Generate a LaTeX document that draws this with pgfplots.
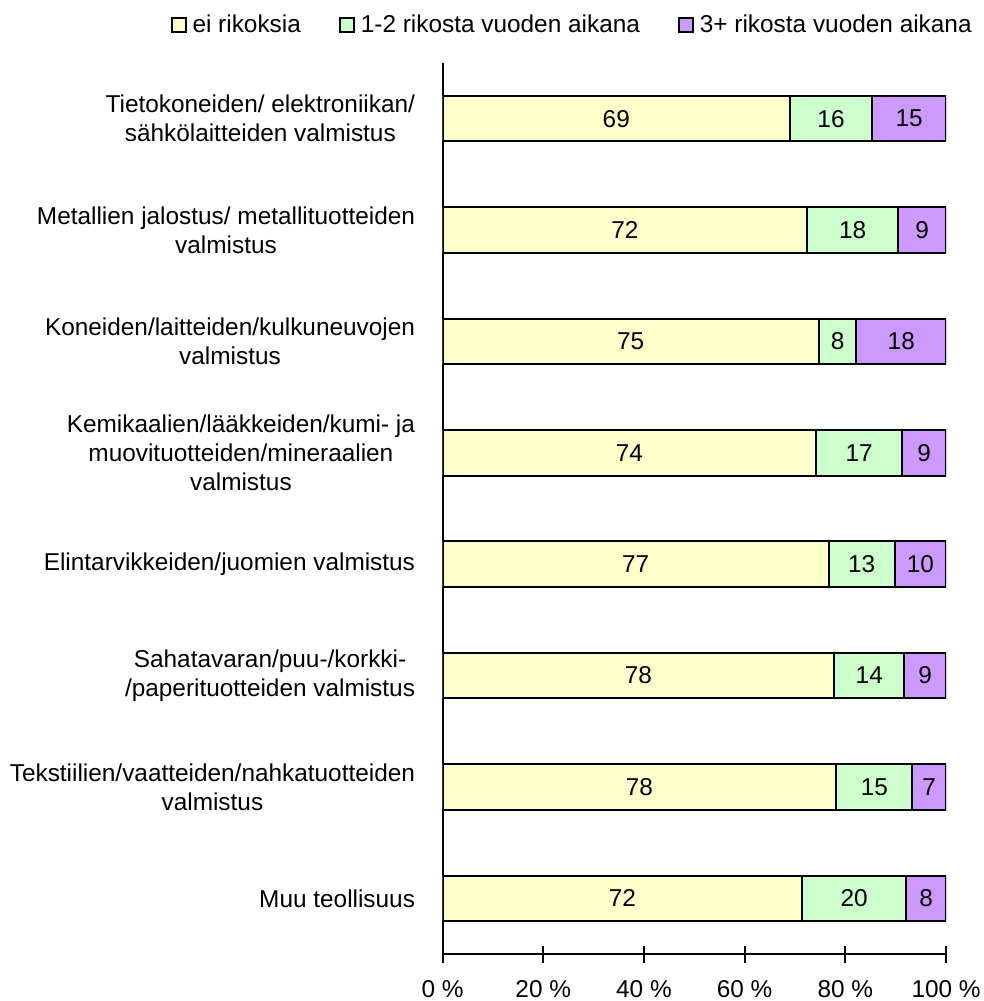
\documentclass[border=0pt]{standalone}
\usepackage{fontspec}
\setmainfont{Liberation Sans}
\usepackage{pgfplots}
\usepackage{pgfplotstable}
\pgfplotsset{compat=1.18}
\definecolor{cA}{HTML}{FFFFCC}
\definecolor{cB}{HTML}{CCFFCC}
\definecolor{cC}{HTML}{CC99FF}
\pgfplotstableread{
y a b c la lb lc
0 69.0 16.3 14.7 69 16 15
1 72.4 18.1 9.5 72 18 9
2 74.7 7.5 17.8 75 8 18
3 74.2 17.1 8.7 74 17 9
4 76.7 13.1 10.2 77 13 10
5 77.8 13.9 8.3 78 14 9
6 78.2 15.1 6.7 78 15 7
7 71.4 20.7 7.9 72 20 8
}\data
\begin{document}
\begin{tikzpicture}[font=\fontsize{12.2}{14.5}\selectfont]
\pgfplotsset{common/.style={
  width=252pt, height=446pt, scale only axis,
  xmin=0, xmax=100, ymin=-0.5, ymax=7.5, y dir=reverse,
}}
\begin{axis}[common,
  xbar stacked, bar width=0.41,
  axis lines=left, axis line style={-, line width=1pt},
  xtick={0,20,40,60,80,100},
  xticklabels={0 \%,20 \%,40 \%,60 \%,80 \%,100 \%},
  tick align=center, major tick length=8.5pt,
  xtick style={line width=1pt, black},
  xticklabel style={yshift=-5.5pt},
  ytick={0,...,7}, ytick style={draw=none},
  yticklabels={{Tietokoneiden/ elektroniikan/\\sähkölaitteiden valmistus},
    {Metallien jalostus/ metallituotteiden\\valmistus},
    {Koneiden/laitteiden/kulkuneuvojen\\valmistus},
    {Kemikaalien/lääkkeiden/kumi- ja\\muovituotteiden/mineraalien\\valmistus},
    {Elintarvikkeiden/juomien valmistus},
    {Sahatavaran/puu-/korkki-\\/paperituotteiden valmistus},
    {Tekstiilien/vaatteiden/nahkatuotteiden\\valmistus},
    {Muu teollisuus}},
  yticklabel style={align=center, xshift=-6pt},
  legend columns=3,
  legend style={draw=none, inner sep=0pt, at={(1,1)}, anchor=east, xshift=16pt, yshift=19pt,
    nodes={inner xsep=3pt, inner ysep=0pt},
    /tikz/every even column/.append style={column sep=16pt}},
  legend image code/.code={\draw[#1, draw=black, line width=1pt] (0pt,-3.5pt) rectangle (7pt,3.5pt);},
]
\addplot[fill=cA, draw=black, line width=1pt] table[x=a, y=y] {\data};
\addplot[fill=cB, draw=black, line width=1pt] table[x=b, y=y] {\data};
\addplot[fill=cC, draw=black, line width=1pt] table[x=c, y=y] {\data};
\legend{ei rikoksia, 1-2 rikosta vuoden aikana, 3+ rikosta vuoden aikana}
\coordinate (SW) at (rel axis cs:0,0);
\coordinate (NE) at (rel axis cs:1,1);
\end{axis}
\begin{axis}[common, hide axis,
  every node near coord/.style={anchor=center, black}]
\addplot[draw=none, mark=none, nodes near coords, point meta=explicit symbolic]
  table[x expr=\thisrow{a}/2, y=y, meta=la] {\data};
\addplot[draw=none, mark=none, nodes near coords, point meta=explicit symbolic]
  table[x expr=\thisrow{a}+\thisrow{b}/2, y=y, meta=lb] {\data};
\addplot[draw=none, mark=none, nodes near coords, point meta=explicit symbolic]
  table[x expr=\thisrow{a}+\thisrow{b}+\thisrow{c}/2, y=y, meta=lc] {\data};
\end{axis}
\pgfresetboundingbox
\path ([shift={(-221.5pt,-23.5pt)}]SW) rectangle ([shift={(18.5pt,31.5pt)}]NE);
\end{tikzpicture}
\end{document}
